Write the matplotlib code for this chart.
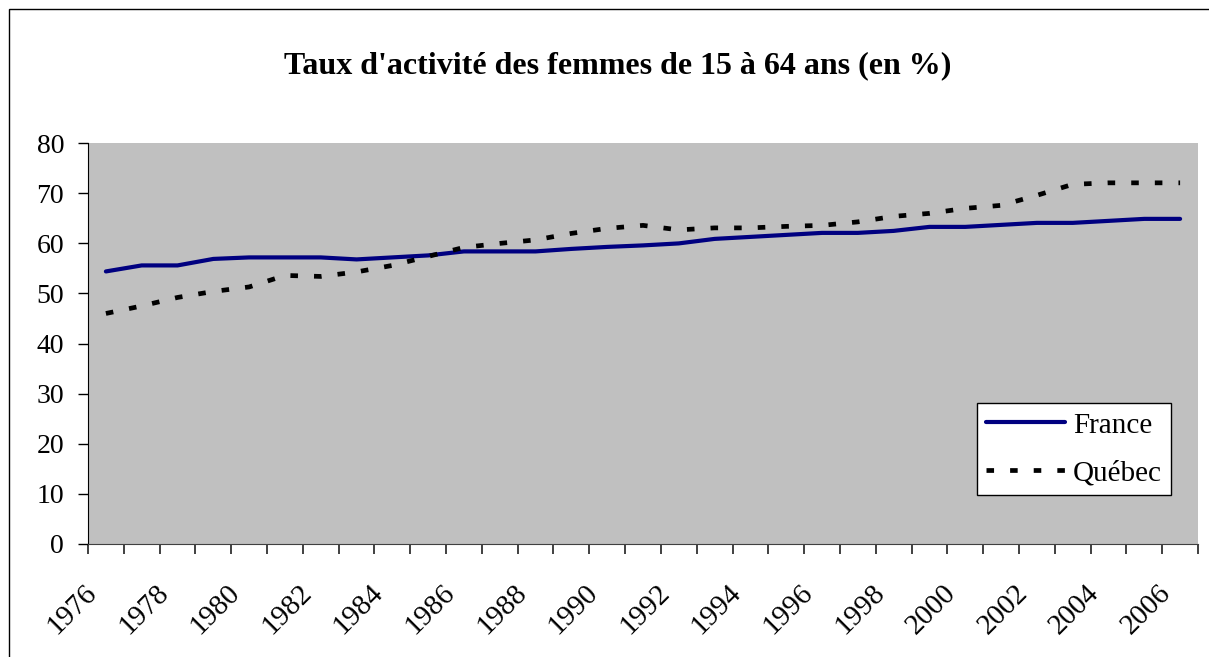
import numpy as np
import matplotlib
matplotlib.use('Agg')
import matplotlib.pyplot as plt
from matplotlib.patches import Rectangle
from matplotlib.transforms import ScaledTranslation

years = list(range(1976, 2007))
france = [54.4, 55.6, 55.6, 56.9, 57.2, 57.2, 57.2, 56.8, 57.2, 57.6,
          58.4, 58.4, 58.4, 58.9, 59.3, 59.6, 60.0, 60.9, 61.3, 61.7,
          62.1, 62.1, 62.5, 63.3, 63.3, 63.7, 64.1, 64.1, 64.5, 64.9, 64.9]
quebec = [46.0, 47.5, 49.2, 50.4, 51.3, 53.6, 53.4, 54.3, 55.6, 57.4,
          59.2, 60.0, 60.7, 62.0, 63.0, 63.6, 62.7, 63.1, 63.1, 63.4,
          63.6, 64.3, 65.4, 66.0, 67.0, 67.6, 69.6, 71.8, 72.1, 72.1, 72.1]
series_names = ['France', 'Québec']
title = "Taux d'activité des femmes de 15 à 64 ans (en %)"

plt.rcParams['font.family'] = ['Liberation Serif', 'DejaVu Serif']

W, H = 1209, 657
fig = plt.figure(figsize=(W / 100, H / 100), dpi=100)

# chart area border (right and bottom edges run off the picture)
fig.add_artist(Rectangle((9 / W, -0.5), 1.5, 1.5 - 9 / H,
                         transform=fig.transFigure, fill=False,
                         edgecolor='black', linewidth=1.0))

fig.text(618 / W, 1 - 73 / H, title, ha='center', va='baseline',
         fontsize=23, fontweight='bold')

left, right, top, bottom = 88, 1198, 143.3, 543.7
ax = fig.add_axes([left / W, (H - bottom) / H, (right - left) / W,
                   (bottom - top) / H])
ax.set_facecolor('#C0C0C0')

x = np.arange(len(years))
ax.plot(x, france, color='#000080', linewidth=3.0, label=series_names[0],
        solid_capstyle='round', solid_joinstyle='round')
ax.plot(x, quebec, color='black', linewidth=3.4, label=series_names[1],
        linestyle=(0, (1.6, 3.4)), dash_capstyle='butt')

ax.set_xlim(-0.5, len(years) - 0.5)
ax.set_ylim(0, 80)
ax.set_yticks(np.arange(0, 81, 10))

for s in ['top', 'right']:
    ax.spines[s].set_visible(False)
ax.spines['left'].set_color('black')
ax.spines['bottom'].set_color('#404040')

ax.tick_params(axis='y', direction='out', length=7.2, width=1,
               labelsize=20, pad=10)

# tick marks sit between categories, labels on every other year
ax.set_xticks(np.arange(-0.5, len(years), 1), minor=True)
ax.tick_params(axis='x', which='minor', direction='out', length=7.2,
               width=1.2, color='#202020')
ax.set_xticks(x[::2])
ax.set_xticklabels([str(y) for y in years[::2]])
ax.tick_params(axis='x', which='major', length=0, labelsize=21, pad=26)
shift = ScaledTranslation(-4 / 100, 0, fig.dpi_scale_trans)
for lab in ax.get_xticklabels():
    lab.set_rotation(45)
    lab.set_ha('right')
    lab.set_va('top')
    lab.set_transform(lab.get_transform() + shift)

leg = ax.legend(loc='lower right',
                bbox_to_anchor=((1171 - left) / (right - left),
                                (bottom - 495) / (bottom - top)),
                borderaxespad=0, fontsize=21, frameon=True, fancybox=False,
                framealpha=1, edgecolor='black', handlelength=2.7,
                handletextpad=0.3, labelspacing=0.73, borderpad=0.3)
leg.get_frame().set_linewidth(1.0)

fig.savefig('out.png', dpi=100)
